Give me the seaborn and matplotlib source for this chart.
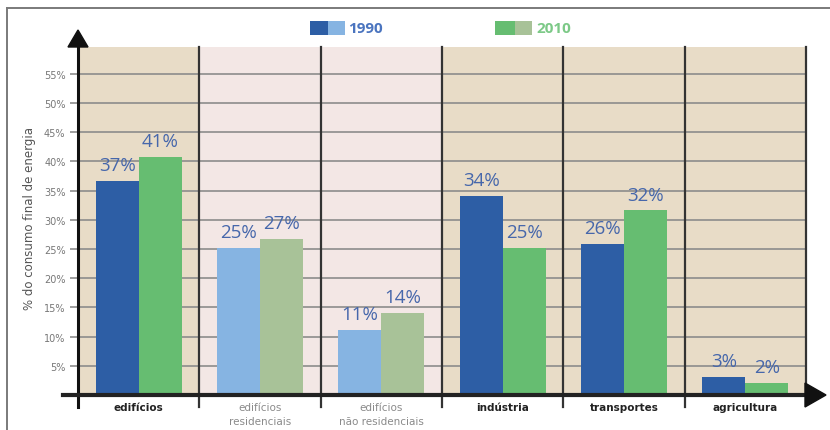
import matplotlib
matplotlib.use("Agg")
import matplotlib.pyplot as plt
import seaborn as sns
import pandas as pd
from matplotlib.patches import Rectangle, Polygon
from matplotlib.lines import Line2D

# ---- data ----
categories = ["edifícios", "edifícios\nresidenciais", "edifícios\nnão residenciais",
              "indústria", "transportes", "agricultura"]
years = ["1990", "2010"]
values_1990 = [36.6, 25.1, 11.1, 34.1, 25.9, 3.1]
values_2010 = [40.7, 26.7, 14.0, 25.1, 31.6, 2.1]
labels_1990 = ["37%", "25%", "11%", "34%", "26%", "3%"]
labels_2010 = ["41%", "27%", "14%", "25%", "32%", "2%"]
ytick_values = [5, 10, 15, 20, 25, 30, 35, 40, 45, 50, 55]
ytick_labels = [f"{v}%" for v in ytick_values]
y_label = "% do consumo final de energia"
sub_category = [False, True, True, False, False, False]

# ---- styling ----
C_1990 = "#2d5ea5"
C_1990_L = "#86b4e2"
C_2010 = "#66bd71"
C_2010_L = "#a8c298"
BG_MAIN = "#e8dcc7"
BG_SUB = "#f3e7e5"
LABEL_C = "#4667ab"

df = pd.DataFrame({
    "categoria": categories * 2,
    "ano": [years[0]] * len(categories) + [years[1]] * len(categories),
    "valor": values_1990 + values_2010,
})

W, H = 830, 431
fig = plt.figure(figsize=(W / 100, H / 100), dpi=100)
fig.patch.set_facecolor("white")

def fx(x):
    return x / W

def fy(y):
    return 1 - y / H

x_left, x_right, y_top, y_base = 78, 806, 48, 396
ax = fig.add_axes([fx(x_left), fy(y_base), fx(x_right) - fx(x_left), fy(y_top) - fy(y_base)])

sns.barplot(data=df, x="categoria", y="valor", hue="ano", order=categories,
            hue_order=years, palette=[C_1990, C_2010], width=0.71,
            saturation=1, ax=ax, legend=False, zorder=3)

px_per_unit = 29.2 / 5
ax.set_xlim(-0.5, len(categories) - 0.5)
ax.set_ylim(0, (y_base - y_top) / px_per_unit)

# recolor sub-category bars and add labels
for hi, cont in enumerate(ax.containers):
    labs = labels_1990 if hi == 0 else labels_2010
    for ci, bar in enumerate(cont):
        if sub_category[ci]:
            bar.set_facecolor(C_1990_L if hi == 0 else C_2010_L)
        bar.set_edgecolor("none")
    ax.bar_label(cont, labels=labs, padding=5, color=LABEL_C, fontsize=13.5,
                 family="Open Sans")

# panel backgrounds
for i in range(len(categories)):
    ax.axvspan(i - 0.5, i + 0.5, color=BG_SUB if sub_category[i] else BG_MAIN,
               zorder=0, lw=0)

# gridlines
ax.set_yticks(ytick_values)
ax.set_yticklabels(ytick_labels)
ax.yaxis.grid(True, color="#8c8c8c", lw=1.2, zorder=1)
ax.set_axisbelow(False)
for gl in ax.get_ygridlines():
    gl.set_zorder(1)
ax.tick_params(axis="y", length=6, width=1.2, color="#8c8c8c", labelsize=7,
               labelcolor="#777777", pad=3)
ax.tick_params(axis="x", length=0, pad=6)
for s in ax.spines.values():
    s.set_visible(False)
ax.set_xlabel("")
ax.set_ylabel("")

# category labels
ax.set_xticks(range(len(categories)))
ax.set_xticklabels([])
for i, cat in enumerate(categories):
    if sub_category[i]:
        ax.text(i, -0.021, cat, transform=ax.get_xaxis_transform(), ha="center",
                va="top", fontsize=7.5, color="#8a8a8a", linespacing=1.4)
    else:
        ax.text(i, -0.021, cat, transform=ax.get_xaxis_transform(), ha="center",
                va="top", fontsize=7.5, color="#222222", fontweight="bold")

# y label
fig.text(fx(30), fy(218), y_label, rotation=90, ha="center", va="center",
         fontsize=8.5, color="#555555")

# dividers
for i in range(1, len(categories)):
    fig.add_artist(Line2D([fx(x_left + i * (x_right - x_left) / 6)] * 2,
                          [fy(y_top), fy(408)], color="#333333", lw=1.6, zorder=5))
fig.add_artist(Line2D([fx(x_right)] * 2, [fy(y_top), fy(y_base)],
                      color="#333333", lw=1.6, zorder=5))

# axes with arrows
fig.add_artist(Line2D([fx(78)] * 2, [fy(408), fy(46)], color="#111111", lw=2.2, zorder=6))
fig.add_artist(Polygon([(fx(68), fy(48)), (fx(88), fy(48)), (fx(78), fy(31))],
                       closed=True, color="#111111", zorder=6))
fig.add_artist(Line2D([fx(63), fx(807)], [fy(396)] * 2, color="#222222", lw=3, zorder=6))
fig.add_artist(Polygon([(fx(805), fy(384)), (fx(805), fy(408)), (fx(826), fy(396))],
                       closed=True, color="#111111", zorder=6))

# legend
fig.add_artist(Rectangle((fx(310), fy(36)), fx(18), 14 / H, color=C_1990, lw=0))
fig.add_artist(Rectangle((fx(328), fy(36)), fx(17), 14 / H, color=C_1990_L, lw=0))
fig.text(fx(348), fy(29), years[0], ha="left", va="center", fontsize=11,
         fontweight="bold", color="#4a74bf", family="Open Sans")
fig.add_artist(Rectangle((fx(495), fy(36)), fx(20), 14 / H, color=C_2010, lw=0))
fig.add_artist(Rectangle((fx(515), fy(36)), fx(17), 14 / H, color=C_2010_L, lw=0))
fig.text(fx(536), fy(29), years[1], ha="left", va="center", fontsize=11,
         fontweight="bold", color="#7cc987", family="Open Sans")

# outer frame
fig.add_artist(Line2D([fx(7), fx(830)], [fy(9)] * 2, color="#7a7a7a", lw=1.4))
fig.add_artist(Line2D([fx(7)] * 2, [fy(9), fy(431)], color="#7a7a7a", lw=1.4))

fig.savefig("out.png", dpi=100)
